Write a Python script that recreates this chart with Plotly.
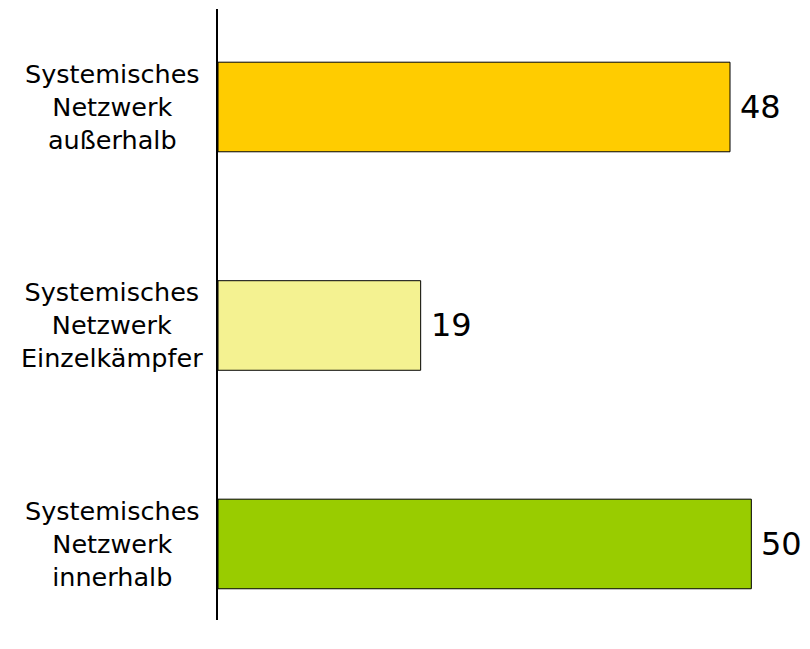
import plotly.graph_objects as go

categories = ["Systemisches<br>Netzwerk<br>innerhalb",
              "Systemisches<br>Netzwerk<br>Einzelkämpfer",
              "Systemisches<br>Netzwerk<br>außerhalb"]
values = [50, 19, 48]
colors = ["#99CC00", "#F4F291", "#FFCC00"]

FONT = "DejaVu Sans"

fig = go.Figure()
fig.add_trace(go.Bar(
    y=categories, x=values, orientation="h",
    marker=dict(color=colors, line=dict(color="black", width=1)),
    width=0.41, showlegend=False, hoverinfo="skip",
))

for c, v in zip(categories, values):
    fig.add_annotation(x=v, y=c, xref="x", yref="y", text=str(v),
                       showarrow=False, xanchor="left", xshift=8,
                       font=dict(family=FONT, size=32, color="black"))
    fig.add_annotation(x=-106/592, y=c, xref="paper", yref="y", text=c,
                       showarrow=False, xanchor="center", align="center",
                       font=dict(family=FONT, size=25.5, color="black"))

fig.update_layout(
    width=802, height=641,
    margin=dict(l=210, r=0, t=1, b=29),
    paper_bgcolor="white", plot_bgcolor="white",
    xaxis=dict(range=[0, 55.5], visible=False, showgrid=False, zeroline=False),
    yaxis=dict(categoryorder="array", categoryarray=categories,
               range=[-0.348, 2.4485], showticklabels=False, ticks="",
               showgrid=False, zeroline=False,
               showline=True, linecolor="black", linewidth=2),
    font=dict(family=FONT),
)

fig.write_html("out.html")
